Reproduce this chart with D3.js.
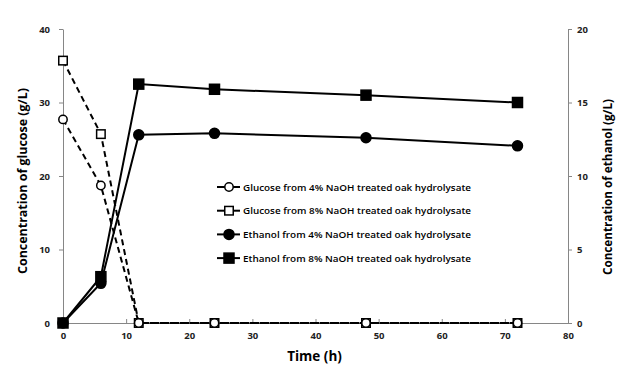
<!DOCTYPE html>
<html><head><meta charset="utf-8">
<script src="https://cdn.jsdelivr.net/npm/d3@7"></script>
<style>body{margin:0;background:#fff}svg{display:block}</style>
</head><body><svg id="c" width="636" height="385"></svg>
<script>
const time = [0, 6, 12, 24, 48, 72];
const glucose4 = [27.7, 18.7, 0, 0, 0, 0];
const glucose8 = [35.7, 25.7, 0, 0, 0, 0];
const ethanol4 = [0, 2.7, 12.8, 12.9, 12.6, 12.05];
const ethanol8 = [0, 3.15, 16.25, 15.9, 15.5, 15.0];
const xTicks = [0, 10, 20, 30, 40, 50, 60, 70, 80];
const yLeftTicks = [0, 10, 20, 30, 40];
const yRightTicks = [0, 5, 10, 15, 20];
const legendLabels = [
  "Glucose from 4% NaOH treated oak hydrolysate",
  "Glucose from 8% NaOH treated oak hydrolysate",
  "Ethanol from 4% NaOH treated oak hydrolysate",
  "Ethanol from 8% NaOH treated oak hydrolysate"
];

const svg = d3.select("#c");
const font = "Open Sans, DejaVu Sans, sans-serif";
const x = d3.scaleLinear().domain([0, 80]).range([63, 568]);
const yL = d3.scaleLinear().domain([0, 40]).range([323, 29]);
const yR = d3.scaleLinear().domain([0, 20]).range([323, 29]);
const axisCol = "#868686";

function styleAxis(g) {
  g.select(".domain").attr("stroke", axisCol).attr("stroke-width", 1);
  g.selectAll(".tick line").attr("stroke", axisCol);
  g.selectAll(".tick text").attr("fill", "#222").attr("font-family", font)
    .attr("font-size", 9.5).attr("font-weight", "700");
}
svg.append("g").attr("transform", "translate(0,323)")
  .call(d3.axisBottom(x).tickValues(xTicks).tickSize(-4).tickSizeOuter(0).tickPadding(9))
  .call(styleAxis);
svg.append("g").attr("transform", "translate(63,0)")
  .call(d3.axisLeft(yL).tickValues(yLeftTicks).tickSize(4).tickSizeOuter(0).tickPadding(9))
  .call(styleAxis);
svg.append("g").attr("transform", "translate(568,0)")
  .call(d3.axisRight(yR).tickValues(yRightTicks).tickSize(4).tickSizeOuter(0).tickPadding(5))
  .call(styleAxis);

// axis titles
svg.append("text").attr("x", x(40) - 1).attr("y", 361).attr("text-anchor", "middle")
  .attr("font-family", font).attr("font-size", 13.5).attr("font-weight", "700").text("Time (h)");
svg.append("text").attr("transform", "translate(27,181) rotate(-90)").attr("text-anchor", "middle")
  .attr("font-family", font).attr("font-size", 12.5).attr("font-weight", "700")
  .attr("textLength", 186).attr("lengthAdjust", "spacingAndGlyphs").text("Concentration of glucose (g/L)");
svg.append("text").attr("transform", "translate(612,187) rotate(-90)").attr("text-anchor", "middle")
  .attr("font-family", font).attr("font-size", 12.5).attr("font-weight", "700")
  .attr("textLength", 176).attr("lengthAdjust", "spacingAndGlyphs").text("Concentration of ethanol (g/L)");

const series = [
  {vals: glucose8, y: yL, dash: "6,4", shape: "square", fill: "#fff"},
  {vals: glucose4, y: yL, dash: "6,4", shape: "circle", fill: "#fff"},
  {vals: ethanol4, y: yR, dash: null, shape: "circle", fill: "#000"},
  {vals: ethanol8, y: yR, dash: null, shape: "square", fill: "#000"}
];

function marker(g, shape, fill, cx, cy) {
  if (shape === "circle") {
    g.append("circle").attr("cx", cx).attr("cy", cy).attr("r", fill === "#000" ? 5 : 4.2)
      .attr("fill", fill).attr("stroke", "#000").attr("stroke-width", 1.5);
  } else {
    const s = fill === "#000" ? 10 : 8.5;
    g.append("rect").attr("x", cx - s / 2).attr("y", cy - s / 2).attr("width", s).attr("height", s)
      .attr("fill", fill).attr("stroke", "#000").attr("stroke-width", 1.5);
  }
}

series.forEach(s => {
  const line = d3.line().x((d, i) => x(time[i])).y(d => s.y(d));
  const g = svg.append("g");
  g.append("path").attr("d", line(s.vals)).attr("fill", "none").attr("stroke", "#000")
    .attr("stroke-width", 2).attr("stroke-dasharray", s.dash);
  s.vals.forEach((v, i) => marker(g, s.shape, s.fill, x(time[i]), s.y(v)));
});

// legend
const legOrder = [
  {shape: "circle", fill: "#fff"},
  {shape: "square", fill: "#fff"},
  {shape: "circle", fill: "#000"},
  {shape: "square", fill: "#000"}
];
const lg = svg.append("g");
legOrder.forEach((l, i) => {
  const cy = 187 + i * 23.7;
  lg.append("line").attr("x1", 217).attr("x2", 240).attr("y1", cy).attr("y2", cy)
    .attr("stroke", "#000").attr("stroke-width", 2);
  marker(lg, l.shape, l.fill, 229, cy);
  lg.append("text").attr("x", 243).attr("y", cy + 3.5).attr("font-family", font)
    .attr("font-size", 9.5).attr("font-weight", "600").attr("fill", "#000")
    .attr("textLength", 228).attr("lengthAdjust", "spacingAndGlyphs").text(legendLabels[i]);
});
</script></body></html>
